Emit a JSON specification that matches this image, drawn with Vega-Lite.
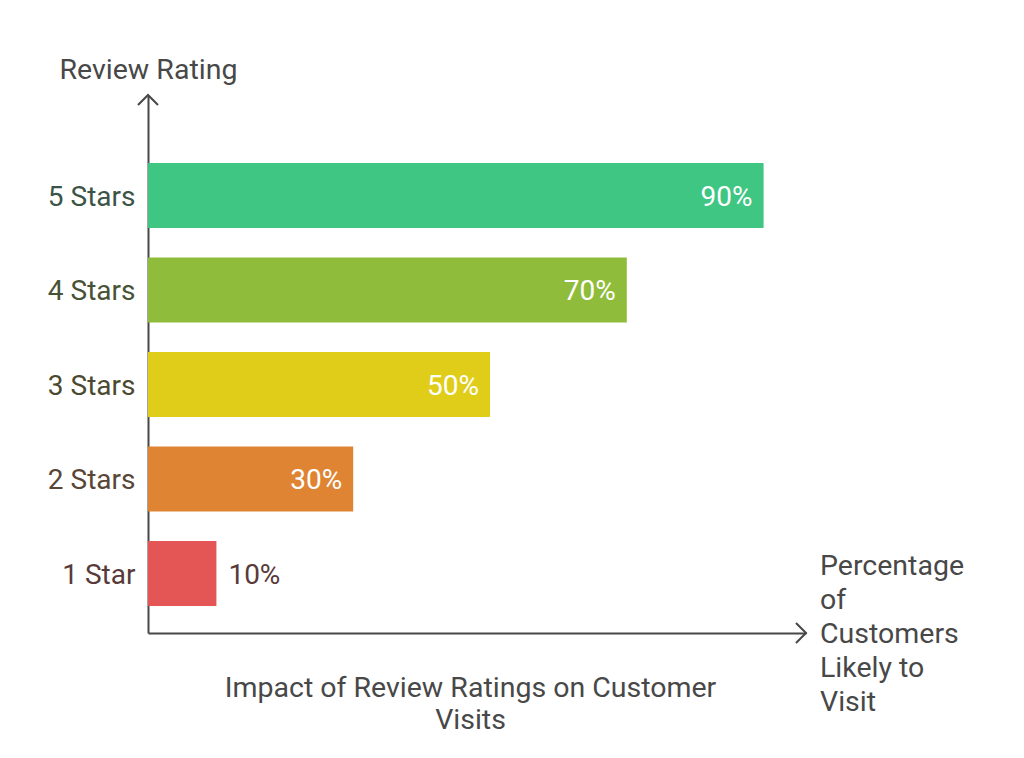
{
  "$schema": "https://vega.github.io/schema/vega-lite/v6.json",
  "autosize": "none",
  "width": 658,
  "height": 538,
  "padding": {"left": 148, "top": 95, "right": 218, "bottom": 125},
  "background": "#ffffff",
  "config": {
    "font": "Roboto",
    "view": {"stroke": null}
  },
  "data": {
    "values": [
      {"rating": "5 Stars", "pct": 90, "label": "90%"},
      {"rating": "4 Stars", "pct": 70, "label": "70%"},
      {"rating": "3 Stars", "pct": 50, "label": "50%"},
      {"rating": "2 Stars", "pct": 30, "label": "30%"},
      {"rating": "1 Star", "pct": 10, "label": "10%"}
    ]
  },
  "resolve": {"scale": {"y": "independent"}, "axis": {"y": "independent"}},
  "layer": [
    {
      "layer": [
        {
          "mark": {"type": "bar", "cornerRadius": 0},
          "encoding": {
            "y": {
              "field": "rating",
              "type": "nominal",
              "sort": ["5 Stars", "4 Stars", "3 Stars", "2 Stars", "1 Star"],
              "scale": {"paddingInner": 0.312, "paddingOuter": 0.5026, "align": 0.716},
              "axis": {
                "title": "Review Rating",
                "titleAngle": 0,
                "titleX": -89,
                "titleY": -17,
                "titleAlign": "left",
                "titleBaseline": "alphabetic",
                "titleFontSize": 28.5,
                "titleFontWeight": "normal",
                "titleColor": "#484848",
                "domain": true,
                "domainColor": "#474747",
                "domainWidth": 2,
                "ticks": false,
                "grid": false,
                "labelFontSize": 28,
                "labelPadding": 13,
                "labelOffset": 2,
                "labelColor": {"expr": "datum.value == '5 Stars' ? '#3b5447' : datum.value == '4 Stars' ? '#485237' : datum.value == '3 Stars' ? '#4b4a30' : datum.value == '2 Stars' ? '#594637' : '#583a3a'"}
              }
            },
            "x": {
              "field": "pct",
              "type": "quantitative",
              "scale": {"domain": [0, 96.2], "nice": false, "zero": true},
              "axis": {
                "title": ["Impact of Review Ratings on Customer", "Visits"],
                "titleX": 322,
                "titleY": 63,
                "titleAlign": "center",
                "titleBaseline": "alphabetic",
                "titleAnchor": null,
                "titleFontSize": 28.5,
                "titleFontWeight": "normal",
                "titleColor": "#484848",
                "titleLineHeight": 32,
                "domain": true,
                "domainColor": "#474747",
                "domainWidth": 2,
                "ticks": false,
                "labels": false,
                "grid": false
              }
            },
            "color": {
              "field": "rating",
              "type": "nominal",
              "scale": {
                "domain": ["5 Stars", "4 Stars", "3 Stars", "2 Stars", "1 Star"],
                "range": ["#3ec682", "#8fbc3a", "#e0cd1a", "#de8432", "#e35655"]
              },
              "legend": null
            }
          }
        },
        {
          "transform": [{"filter": "datum.pct >= 30"}],
          "mark": {"type": "text", "align": "right", "baseline": "middle", "dx": -11, "dy": 2, "fontSize": 28, "color": "#ffffff"},
          "encoding": {
            "y": {"field": "rating", "type": "nominal", "sort": ["5 Stars", "4 Stars", "3 Stars", "2 Stars", "1 Star"]},
            "x": {"field": "pct", "type": "quantitative"},
            "text": {"field": "label"}
          }
        },
        {
          "transform": [{"filter": "datum.pct < 30"}],
          "mark": {"type": "text", "align": "left", "baseline": "middle", "dx": 12, "dy": 2, "fontSize": 28, "color": "#583a3a"},
          "encoding": {
            "y": {"field": "rating", "type": "nominal", "sort": ["5 Stars", "4 Stars", "3 Stars", "2 Stars", "1 Star"]},
            "x": {"field": "pct", "type": "quantitative"},
            "text": {"field": "label"}
          }
        }
      ]
    },
    {
      "data": {"values": [{"xa": 0, "ya": 1, "dir": "up"}, {"xa": 96.2, "ya": 0, "dir": "right"}]},
      "layer": [
        {
          "transform": [{"filter": "datum.dir == 'up'"}],
          "mark": {"type": "point", "shape": "M-1,1L0,0L1,1", "filled": false, "size": 400, "strokeWidth": 2, "color": "#474747", "opacity": 1},
          "encoding": {
            "x": {"field": "xa", "type": "quantitative"},
            "y": {"field": "ya", "type": "quantitative", "scale": {"domain": [0, 1], "nice": false}, "axis": null}
          }
        },
        {
          "transform": [{"filter": "datum.dir == 'right'"}],
          "mark": {"type": "point", "shape": "M-1,-1L0,0L-1,1", "filled": false, "size": 400, "strokeWidth": 2, "color": "#474747", "opacity": 1},
          "encoding": {
            "x": {"field": "xa", "type": "quantitative"},
            "y": {"field": "ya", "type": "quantitative", "scale": {"domain": [0, 1], "nice": false}, "axis": null}
          }
        },
        {
          "transform": [{"filter": "datum.dir == 'right'"}],
          "mark": {"type": "text", "align": "left", "baseline": "alphabetic", "dx": 14, "dy": -58, "fontSize": 28.5, "lineHeight": 34, "color": "#484848", "text": ["Percentage", "of", "Customers", "Likely to", "Visit"]},
          "encoding": {
            "x": {"field": "xa", "type": "quantitative"},
            "y": {"field": "ya", "type": "quantitative", "scale": {"domain": [0, 1], "nice": false}, "axis": null}
          }
        }
      ]
    }
  ]
}
